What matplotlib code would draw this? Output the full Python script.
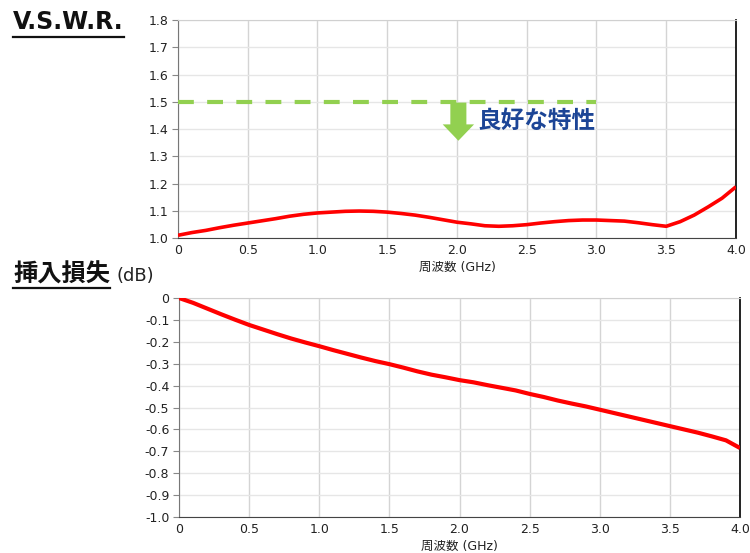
import numpy as np
import matplotlib
matplotlib.use("Agg")
import matplotlib.pyplot as plt
from matplotlib.patches import FancyArrow
from matplotlib.lines import Line2D

plt.rcParams['font.family'] = ['DejaVu Sans', 'Noto Sans CJK JP']

# frequency axis (GHz), read every 0.1 GHz
freq = [0.0, 0.1, 0.2, 0.3, 0.4, 0.5, 0.6, 0.7, 0.8, 0.9,
        1.0, 1.1, 1.2, 1.3, 1.4, 1.5, 1.6, 1.7, 1.8, 1.9,
        2.0, 2.1, 2.2, 2.3, 2.4, 2.5, 2.6, 2.7, 2.8, 2.9,
        3.0, 3.1, 3.2, 3.3, 3.4, 3.5, 3.6, 3.7, 3.8, 3.9, 4.0]

vswr = [1.010, 1.020, 1.028, 1.038, 1.047, 1.055, 1.063, 1.071, 1.080, 1.087,
        1.092, 1.095, 1.098, 1.099, 1.098, 1.095, 1.090, 1.084, 1.076, 1.067,
        1.058, 1.052, 1.045, 1.043, 1.045, 1.049, 1.055, 1.060, 1.064, 1.066,
        1.066, 1.064, 1.062, 1.056, 1.049, 1.043, 1.060, 1.084, 1.114, 1.146, 1.188]

loss = [0.000, -0.022, -0.048, -0.074, -0.099, -0.123, -0.144, -0.165, -0.185, -0.203,
        -0.220, -0.238, -0.255, -0.272, -0.288, -0.302, -0.318, -0.335, -0.350, -0.362,
        -0.375, -0.385, -0.398, -0.410, -0.422, -0.438, -0.452, -0.468, -0.482, -0.495,
        -0.510, -0.525, -0.540, -0.555, -0.570, -0.585, -0.600, -0.615, -0.632, -0.650, -0.685]

vswr_limit = 1.5
limit_span = [0.0, 3.0]

xticks = [0, 0.5, 1.0, 1.5, 2.0, 2.5, 3.0, 3.5, 4.0]
xtick_labels = ['0', '0.5', '1.0', '1.5', '2.0', '2.5', '3.0', '3.5', '4.0']
vswr_ticks = [1.0, 1.1, 1.2, 1.3, 1.4, 1.5, 1.6, 1.7, 1.8]
loss_ticks = [0, -0.1, -0.2, -0.3, -0.4, -0.5, -0.6, -0.7, -0.8, -0.9, -1.0]
loss_tick_labels = ['0', '-0.1', '-0.2', '-0.3', '-0.4', '-0.5', '-0.6', '-0.7', '-0.8', '-0.9', '-1.0']

red = '#ff0000'
green = '#92d050'
navy = '#1c4596'


def style_axes(ax):
	ax.set_facecolor('white')
	ax.grid(axis='x', color='#d4d4d4', linewidth=1.0)
	ax.grid(axis='y', color='#e6e6e6', linewidth=1.0)
	ax.set_axisbelow(True)
	ax.tick_params(axis='x', length=0, labelsize=9, pad=4, colors='#222222')
	ax.tick_params(axis='y', length=4, labelsize=9, pad=3, color='#888888', labelcolor='#222222')
	ax.spines['top'].set_color('#d0d0d0')
	ax.spines['left'].set_color('#777777')
	ax.spines['bottom'].set_color('#444444')
	ax.spines['right'].set_color('#111111')
	ax.spines['right'].set_linewidth(1.3)
	ax.set_xlabel('周波数 (GHz)', fontsize=9, labelpad=3, color='#222222')


fig = plt.figure(figsize=(7.5, 5.53), dpi=100)

# V.S.W.R. chart
ax1 = fig.add_axes([0.2373, 0.5696, 0.744, 0.3942])
style_axes(ax1)
ax1.plot(freq, vswr, color=red, linewidth=2.6, solid_capstyle='butt', zorder=3)
ax1.plot(limit_span, [vswr_limit, vswr_limit], color=green, linewidth=3.0,
         dashes=(3.8, 3.2), zorder=3)
ax1.add_patch(FancyArrow(2.01, 1.497, 0, -0.14, width=0.115, head_width=0.225,
                         head_length=0.06, length_includes_head=True,
                         color=green, linewidth=0, zorder=4))
ax1.text(2.15, 1.43, '良好な特性', color=navy, fontsize=17, fontweight='bold',
         family=['Noto Sans CJK JP'], va='center', ha='left', zorder=5)
ax1.set_xlim(0, 4.0)
ax1.set_ylim(1.0, 1.8)
ax1.set_xticks(xticks)
ax1.set_xticklabels(xtick_labels)
ax1.set_yticks(vswr_ticks)

# insertion loss chart
ax2 = fig.add_axes([0.2387, 0.0651, 0.748, 0.396])
style_axes(ax2)
ax2.plot(freq, loss, color=red, linewidth=3.0, solid_capstyle='butt', zorder=3)
ax2.set_xlim(0, 4.0)
ax2.set_ylim(-1.0, 0)
ax2.set_xticks(xticks)
ax2.set_xticklabels(xtick_labels)
ax2.set_yticks(loss_ticks)
ax2.set_yticklabels(loss_tick_labels)

# section headings (underlined)
t1 = fig.text(13 / 750, 1 - 22 / 553, 'V.S.W.R.', fontsize=17, fontweight='bold',
              va='center', ha='left', color='#111111')
t2 = fig.text(13 / 750, 1 - 275 / 553, '挿入損失', fontsize=17.5, fontweight='bold',
              family=['Noto Sans CJK JP'], va='center', ha='left', color='#111111')
fig.text(117 / 750, 1 - 276 / 553, '(dB)', fontsize=13, va='center', ha='left',
         color='#222222')

fig.canvas.draw()
r = fig.canvas.get_renderer()
inv = fig.transFigure.inverted()
for t, off in [(t1, 3), (t2, 1)]:
	bb = t.get_window_extent(r)
	(x0, y0), (x1, _) = inv.transform([(bb.x0, bb.y0 - off), (bb.x1, bb.y0)])
	fig.add_artist(Line2D([x0, x1], [y0, y0], transform=fig.transFigure,
	                      color='#111111', linewidth=1.6))

fig.savefig('out.png', dpi=100)
